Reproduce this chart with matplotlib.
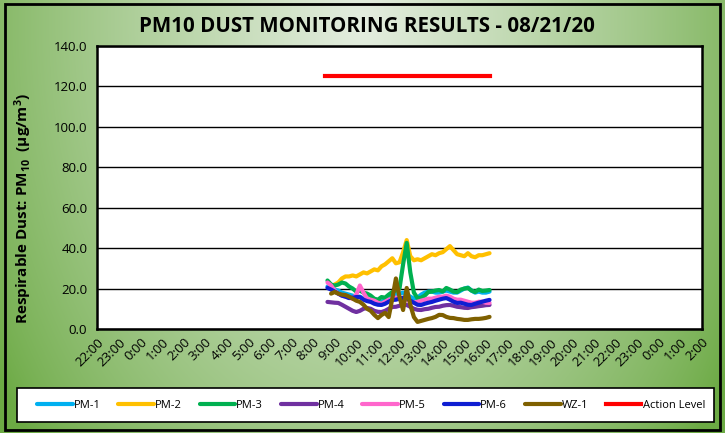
import numpy as np
import matplotlib
matplotlib.use("Agg")
import matplotlib.pyplot as plt
import matplotlib.transforms as mtrans
from matplotlib.patches import Rectangle

plt.rcParams["mathtext.fontset"] = "custom"
plt.rcParams["mathtext.rm"] = "Open Sans"
plt.rcParams["mathtext.bf"] = "Open Sans:bold"
plt.rcParams["mathtext.it"] = "Open Sans:italic"

# time grid: 10 minute readings from 8:40 to 16:10 on 08/21 (hours)
times = [8 + 40 / 60 + k / 6 for k in range(46)]

pm1 = [21, 20, 19.5, 19, 18, 17.5, 17, 16.5, 16, 16, 15, 14.5, 14, 13.5, 13, 13.5,
       14.5, 15.5, 16.5, 17, 17.5, 18, 17, 16, 15, 15.5, 17, 18, 18.5, 18.5, 18, 18,
       18.5, 19, 18.5, 18, 18, 19, 20, 20.5, 19, 18, 18.5, 18, 18, 18.5]
pm2 = [np.nan, 21, 22, 23, 25, 26, 26, 26.5, 26, 27, 28, 27.5, 28.5, 29.5, 29, 31,
       32, 33.5, 35, 32.5, 33, 38, 44, 36, 34, 34.5, 34, 35, 36, 37, 36.5, 37.5,
       38, 39.5, 41, 39, 37, 36.5, 36, 37.5, 36, 35.5, 36.5, 36.5, 37, 37.5]
pm3 = [24, 22, 21.5, 22, 23, 22.5, 21, 20, 18.5, 19, 18, 17.5, 16.5, 15, 14.5, 15.8,
       15.5, 17, 18.3, 19, 20, 32, 42.6, 28, 18, 15.3, 15.5, 16.5, 18.3, 18.5, 19, 19.3,
       18.5, 20.3, 19.5, 18.5, 18.3, 19.5, 20, 20.3, 19, 18.3, 19.5, 18.8, 19, 19.3]
pm4 = [13.4, 13.2, 13, 12.9, 12, 11, 10, 9, 8.4, 9, 10, 10.4, 10, 9, 8.5, 8.4,
       9, 10, 10.9, 11, 11.5, 12, 11.9, 11, 10, 9.5, 9.4, 9.8, 10, 10.5, 10.9, 11,
       11.5, 11.8, 11.9, 11.5, 11, 10.8, 10.5, 10.4, 10.8, 11, 11.3, 11.5, 11.8, 11.9]
pm5 = [23, 21.5, 19, 17.5, 16.5, 16, 15.5, 15, 17, 21.5, 18, 15, 14.5, 14, 13, 12.5,
       13.5, 14.5, 15, 15.5, 15.5, 15, 14.5, 13.5, 13, 13.5, 14, 14.5, 15, 15, 15.5, 16,
       16, 16.5, 16, 15, 14.5, 14.5, 14, 13.5, 13, 13, 13.5, 13.5, 13, 12.9]
pm6 = [20.3, 19.5, 18.5, 17.5, 16.5, 16, 15.3, 15.5, 15.8, 15.8, 14.5, 13.8, 13.4, 12.5, 12, 11.9,
       12.5, 13.5, 14.4, 14.5, 15, 15.5, 15.3, 14, 13, 12, 11.9, 12.5, 13, 13.4, 14, 14.5,
       15, 15.3, 14.5, 13.5, 12.9, 13, 12.5, 12, 11.9, 12.5, 13, 13.5, 14, 14.4]
wz1 = [np.nan, 17.5, 18.3, 17.5, 17, 16.8, 16, 15, 14, 13.4, 12, 10, 9, 7, 5.4, 6.9,
       8, 5.9, 15, 25, 15.8, 9.4, 20.3, 12, 5.9, 3.5, 4, 4.5, 5, 5.4, 6, 7,
       6.9, 6, 5.5, 5.4, 5, 4.8, 4.5, 4.5, 4.8, 5, 5, 5.2, 5.5, 6]
action_level = 125
action_times = [8.55, 16.2]

series_names = ["PM-1", "PM-2", "PM-3", "PM-4", "PM-5", "PM-6", "WZ-1"]
series_colors = ["#00B0F0", "#FFC000", "#00B050", "#7030A0", "#FF66CC", "#0F1ED2", "#7F6000"]

# x axis: hour ticks from 22:00 (08/20) to 2:00 (08/22), in hours relative to 0:00 on 08/21
tick_hours = list(range(-2, 27))
tick_labels = ["%d:00" % (h % 24) for h in tick_hours]
y_ticks = [0, 20, 40, 60, 80, 100, 120, 140]

W, H = 725, 433
fig = plt.figure(figsize=(W / 100, H / 100), dpi=100)

# green gradient background
bg = fig.add_axes([0, 0, 1, 1], zorder=-10)
gx, gy = np.meshgrid(np.linspace(0, 1, 300), np.linspace(1, 0, 200))
d = np.sqrt(((gx - 0.5) / 0.6) ** 2 + ((gy - 0.95) / 1.5) ** 2)
f = np.clip(1 - d, 0, 1) ** 0.8
dark = np.array([108, 170, 68]) / 255
light = np.array([228, 237, 224]) / 255
img = dark[None, None, :] * (1 - f[..., None]) + light[None, None, :] * f[..., None]
bg.imshow(img, aspect="auto", extent=[0, 1, 0, 1], interpolation="bilinear")
bg.set_xlim(0, 1)
bg.set_ylim(0, 1)
bg.axis("off")
bg.add_patch(Rectangle((5 / W, 1 - 430 / H), 715 / W, 426 / H, fill=False,
                       edgecolor="black", linewidth=2))
bg.add_patch(Rectangle((17 / W, 1 - 422 / H), 697 / W, 34 / H, facecolor="white",
                       edgecolor="black", linewidth=1.2))

ax = fig.add_axes([97 / W, 1 - 329 / H, 605 / W, 283 / H])
ax.set_facecolor("white")

for vals, name, col in zip([pm1, pm2, pm3, pm4, pm5, pm6, wz1], series_names, series_colors):
    ax.plot(times, vals, color=col, linewidth=3, label=name, solid_capstyle="round")
ax.plot(action_times, [action_level, action_level], color="#FF0000", linewidth=3,
        label="Action Level")

ax.set_xlim(-2, 26)
ax.set_ylim(0, 140)
ax.set_xticks(tick_hours)
ax.set_xticklabels(tick_labels, rotation=45, ha="right", rotation_mode="anchor",
                   fontsize=9.5, family="Open Sans")
shift = mtrans.ScaledTranslation(6 / 100, 0, fig.dpi_scale_trans)
for lab in ax.get_xticklabels():
    lab.set_transform(lab.get_transform() + shift)
ax.set_yticks(y_ticks)
ax.set_yticklabels(["%.1f" % v for v in y_ticks], fontsize=9.5, family="Open Sans")
ax.tick_params(length=0, pad=5)
ax.tick_params(axis="y", pad=7)
ax.grid(axis="y", color="black", linewidth=1)
ax.set_axisbelow(True)
for sp in ax.spines.values():
    sp.set_linewidth(1.8)
    sp.set_color("black")

fig.text(23 / W, 1 - 208 / H,
         r"Respirable Dust: PM$_{\mathbf{10}}$  ($\mathbf{\mu}$g/m$^{\mathbf{3}}$)",
         rotation=90, ha="center", va="center",
         fontsize=11, fontweight="bold", family="Open Sans")

fig.text(367 / W, 1 - 27 / H, "PM10 DUST MONITORING RESULTS - 08/21/20",
         ha="center", va="center", fontsize=14.8, fontweight="bold", family="Open Sans")

leg = fig.legend(loc="center", ncol=8, bbox_to_anchor=(371 / W, 1 - 405 / H),
                 frameon=False, handlelength=3.2, handletextpad=0.1, columnspacing=1.6,
                 prop={"family": "Open Sans", "size": 8})

fig.savefig("out.png", dpi=100)
